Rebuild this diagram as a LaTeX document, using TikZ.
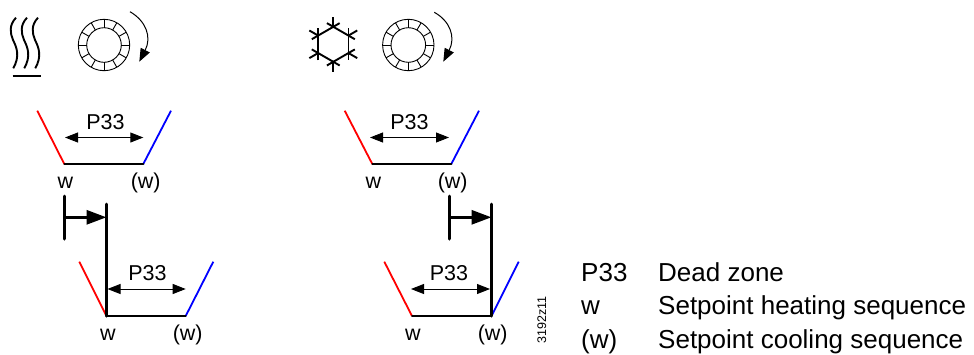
\documentclass[tikz,border=0pt]{standalone}
\usepackage{fontspec}
\setmainfont{Liberation Sans}
\usetikzlibrary{arrows.meta,calc}
\definecolor{heatred}{RGB}{255,0,0}
\definecolor{coolblue}{RGB}{0,0,255}
\newcommand{\ringicon}[2]{%
  \draw[thinline] (#1,#2) circle (25.7);
  \draw[thinline] (#1,#2) circle (17.3);
  \foreach \ang in {0,30,...,330}
    \draw[thinline] ($(#1,#2)+(\ang:17.3)$) -- ($(#1,#2)+(\ang:25.7)$);
}
\begin{document}
\begin{tikzpicture}[
  x=1pt, y=-1pt,
  lbl/.style={inner sep=0pt, anchor=base, font=\fontsize{21.5}{25}\selectfont},
  legend/.style={inner sep=0pt, anchor=base west, font=\fontsize{26}{30}\selectfont},
  thinline/.style={line width=.9pt},
  flat/.style={line width=2pt, line cap=round},
  heat/.style={line width=1.8pt, heatred},
  cool/.style={line width=1.8pt, coolblue},
  span/.style={{Triangle[length=13pt,width=10pt]}-{Triangle[length=13pt,width=10pt]}, line width=.9pt},
  shiftbar/.style={line width=3pt, line cap=round},
  shiftarr/.style={-{Triangle[length=20pt,width=14pt]}, line width=3pt},
  turn/.style={-{Triangle[length=13pt,width=10pt]}, line width=1pt},
  icon/.style={line width=1.9pt},
]
\useasboundingbox (0,0) rectangle (974,354);

% Heating symbol
\foreach \dx in {0,11,22}
  \draw[icon, xshift=\dx pt] (16,17.7) .. controls (9,25) and (10,33) .. (13,40) .. controls (17,48) and (20,56) .. (13.3,68.3);
\coordinate (hbarL) at (12.7,76.3);
\coordinate (hbarR) at (40.7,76.3);
\draw[icon] (hbarL) -- (hbarR);

% Cooling symbol
\coordinate (flake) at (333.3,44.3);
\foreach \ang in {30,90,...,330} {
  \path (flake) +(\ang:17.5) coordinate (u) +(\ang+60:17.5) coordinate (v);
  \draw[icon] (u) -- ($(flake)!1.58!(u)$);
  \draw[icon] ($(u)!-.42!(v)$) -- ($(v)!-.42!(u)$);
}

% Rotation symbols
\ringicon{104}{45}
\ringicon{408.3}{45}
\coordinate (turnAs) at (130,11.7);
\coordinate (turnAe) at (139.3,61.7);
\coordinate (turnBs) at (434.3,12.3);
\coordinate (turnBe) at (443.3,61.7);
\draw[turn] (turnAs) .. controls (146,21) and (152,37) .. (turnAe);
\draw[turn] (turnBs) .. controls (450,21) and (456,37) .. (turnBe);

% Upper left
\coordinate (a1) at (37.3,110.7);
\coordinate (a2) at (64.3,164);
\coordinate (a3) at (143.3,164);
\coordinate (a4) at (171,110.7);
\draw[heat] (a1) -- (a2);
\draw[cool] (a3) -- (a4);
\draw[flat] (a2) -- (a3);
\draw[span] (65,137.5) -- (143.3,137.5);
\node[lbl] (aP) at (105.5,129) {P33};
\node[lbl] (aw) at (65.3,188.7) {w};
\node[lbl] (awb) at (145.7,188.7) {(w)};

% Lower left
\coordinate (b1) at (79.3,261.7);
\coordinate (b2) at (106.5,316);
\coordinate (b3) at (185.7,316);
\coordinate (b4) at (213.3,261.7);
\coordinate (btop) at (106.5,204);
\coordinate (bfrom) at (64.3,217.3);
\draw[heat] (b1) -- (b2);
\draw[cool] (b3) -- (b4);
\draw[flat] (b2) -- (b3);
\draw[shiftbar] (btop) -- (b2);
\draw[shiftbar] (64.3,196) -- (64.3,239);
\draw[shiftarr] (bfrom) -- (bfrom -| btop);
\draw[span] (107.5,289) -- (185.7,289);
\node[lbl] (bP) at (147.5,280) {P33};
\node[lbl] (bw) at (108,340.5) {w};
\node[lbl] (bwb) at (187.7,340.5) {(w)};

% Upper right
\coordinate (c1) at (344.7,110.7);
\coordinate (c2) at (372.3,164);
\coordinate (c3) at (451.3,164);
\coordinate (c4) at (479,110.7);
\draw[heat] (c1) -- (c2);
\draw[cool] (c3) -- (c4);
\draw[flat] (c2) -- (c3);
\draw[span] (370,137.5) -- (449,137.5);
\node[lbl] (cP) at (409.5,129) {P33};
\node[lbl] (cw) at (373.3,188.7) {w};
\node[lbl] (cwb) at (452.7,188.7) {(w)};

% Lower right
\coordinate (d1) at (384.3,261.7);
\coordinate (d2) at (412,316);
\coordinate (d3) at (491.5,316);
\coordinate (d4) at (518.7,261.7);
\coordinate (dtop) at (491.5,204);
\coordinate (dfrom) at (449.7,217.3);
\draw[heat] (d1) -- (d2);
\draw[cool] (d3) -- (d4);
\draw[flat] (d2) -- (d3);
\draw[shiftbar] (dtop) -- (d3);
\draw[shiftbar] (449.7,196) -- (449.7,239);
\draw[shiftarr] (dfrom) -- (dfrom -| dtop);
\draw[span] (411,289) -- (490,289);
\node[lbl] (dP) at (449,280) {P33};
\node[lbl] (dw) at (413,340.5) {w};
\node[lbl] (dwb) at (492.7,340.5) {(w)};

\node[inner sep=0pt, rotate=90, font=\fontsize{12.5}{15}\selectfont] (code) at (541.7,320) {3192z11};

% Legend
\node[legend] (k1) at (581,281) {P33};
\node[legend] (k2) at (581,314.5) {w};
\node[legend] (k3) at (581,348) {(w)};
\node[legend] (t1) at (658,281) {Dead zone};
\node[legend] (t2) at (658,314.5) {Setpoint heating sequence};
\node[legend] (t3) at (658,348) {Setpoint cooling sequence};
\end{tikzpicture}
\end{document}
